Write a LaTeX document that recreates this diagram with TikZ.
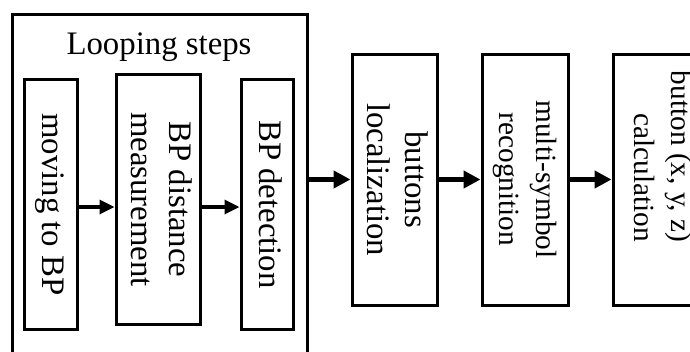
\documentclass[tikz,border=0pt]{standalone}
\usepackage{fontspec}
\setmainfont{Liberation Serif}
\usepackage{graphicx}
\usetikzlibrary{arrows.meta,positioning}

\tikzset{
  stepbox/.style={draw, line width=3pt, inner sep=0pt, minimum height=250pt},
  smalltext/.style={font=\fontsize{29.3}{37}\selectfont},
  arr/.style={-{Triangle[length=15pt,width=14pt]}, line width=3.3pt},
  bigarr/.style={-{Triangle[length=17pt,width=17pt]}, line width=5pt},
}
\newcommand{\vtext}[2][@{}c@{}]{\rotatebox{-90}{\begin{tabular}{#1}#2\end{tabular}}}

\begin{document}
\begin{tikzpicture}[x=1pt, y=-1pt, font=\fontsize{32.8}{38}\selectfont]
\useasboundingbox (0,0) rectangle (690,351);

%%%%%
%% looping steps
%%%%%
\node[draw, line width=3pt, inner sep=0pt, minimum width=295pt, minimum height=370pt, anchor=north west] (loop) at (11,13) {};
\node (looptitle) at (159,47) {Looping steps};

\node[stepbox, minimum width=53pt] (move) at (50.5,204.5) {\vtext{moving to BP}};
\node[stepbox, minimum width=84pt] (dist) at (158,199.5) {\vtext{BP distance\\measurement}};
\node[stepbox, minimum width=52pt] (detect) at (267,204.5) {\vtext{BP detection}};

\coordinate (inner) at (0,207);
\draw[arr] (move.east |- inner) -- (dist.west |- inner);
\draw[arr] (dist.east |- inner) -- (detect.west |- inner);

%%%%%
%% after the loop
%%%%%
\node[stepbox, minimum width=85pt, minimum height=251pt] (local) at (394.5,179.5) {\vtext{buttons\\localization}};
\node[stepbox, smalltext, minimum width=86pt, minimum height=251pt] (recog) at (525,179.5) {\vtext{multi-symbol\\recognition}};
\node[stepbox, smalltext, minimum width=94pt, minimum height=251pt] (calc) at (660,179.5) {\vtext[@{}r@{\hspace{46pt}}]{button (x, y, z)\\calculation}};

\draw[bigarr] (loop.east |- local.west) -- (local.west);
\draw[bigarr] (local.east) -- (recog.west);
\draw[bigarr] (recog.east) -- (calc.west);

\end{tikzpicture}
\end{document}
